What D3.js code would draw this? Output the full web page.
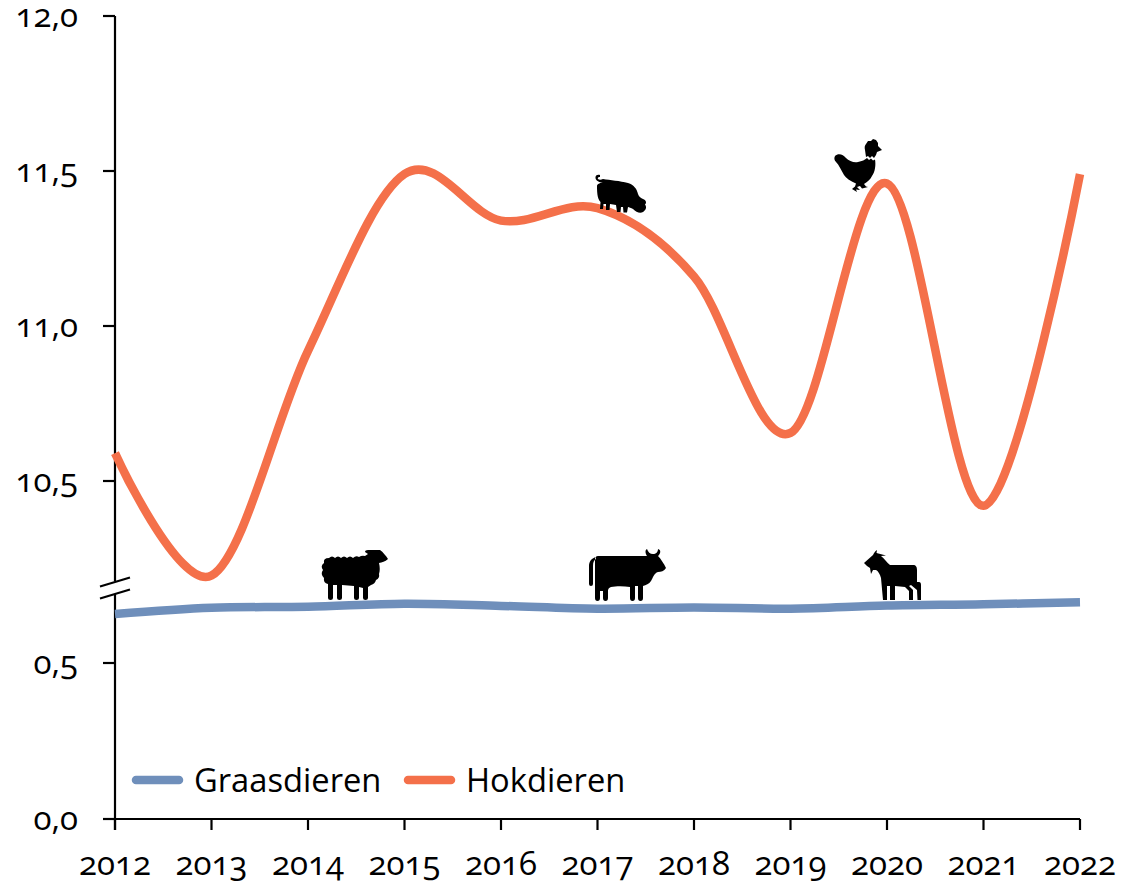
<!DOCTYPE html>
<html><head><meta charset="utf-8">
<script src="https://cdn.jsdelivr.net/npm/d3@7"></script>
<style>html,body{margin:0;background:#fff}svg{display:block}
text{font-family:"Open Sans",sans-serif;fill:#000;font-variant-numeric:oldstyle-nums;font-feature-settings:"onum"}</style>
</head><body><svg id="c" width="1122" height="885"></svg>
<script>
const years=[2012,2013,2014,2015,2016,2017,2018,2019,2020,2021,2022];
const hokdieren=[10.59,10.195,10.92,11.49,11.34,11.38,11.16,10.655,11.46,10.42,11.49];
const graasdieren=[0.657,0.677,0.68,0.69,0.683,0.674,0.678,0.674,0.684,0.688,0.695];
const upperTicks=[10.5,11,11.5,12];
const lowerTicks=[0,0.5];
const names=["Graasdieren","Hokdieren"];
const colors=["#6f8fbb","#f4704a"];
const svg=d3.select("#c");
const x=d3.scaleLinear().domain([2012,2022]).range([115,1080]);
const yU=d3.scaleLinear().domain([10.5,12]).range([481,16]);
const yL=d3.scaleLinear().domain([0,0.5]).range([819,663]);
const fmt=v=>d3.format(".1f")(v).replace(".",",");
const line=(y)=>d3.line().x((d,i)=>x(years[i])).y(d=>y(d)).curve(d3.curveCardinal.tension(0));
const ax=svg.append("g").attr("stroke","#000").attr("stroke-width",2.2);
ax.append("line").attr("x1",115).attr("x2",115).attr("y1",16).attr("y2",581);
ax.append("line").attr("x1",115).attr("x2",115).attr("y1",594).attr("y2",830);
ax.append("line").attr("x1",103).attr("x2",1080).attr("y1",yL(0)).attr("y2",yL(0));
ax.selectAll(".b").data([0,12]).join("line").attr("x1",100).attr("x2",130).attr("y1",d=>587+d-.5).attr("y2",d=>578+d-.5);
ax.selectAll(".xt").data(years).join("line").attr("x1",d=>x(d)).attr("x2",d=>x(d)).attr("y1",819).attr("y2",830);
ax.selectAll(".u").data(upperTicks).join("line").attr("x1",103).attr("x2",115).attr("y1",d=>yU(d)).attr("y2",d=>yU(d));
ax.selectAll(".l").data(lowerTicks).join("line").attr("x1",103).attr("x2",115).attr("y1",d=>yL(d)).attr("y2",d=>yL(d));
const lab=svg.append("g").attr("font-size",33);
lab.selectAll(".u").data(upperTicks).join("text").attr("x",78).attr("text-anchor","end").attr("y",d=>yU(d)+11).text(fmt);
lab.selectAll(".l").data(lowerTicks).join("text").attr("x",78).attr("text-anchor","end").attr("y",d=>yL(d)+11).text(fmt);
lab.selectAll(".x").data(years).join("text").attr("x",d=>x(d)).attr("text-anchor","middle").attr("y",875).text(d=>d);
svg.append("path").attr("d",line(yL)(graasdieren)).attr("fill","none").attr("stroke",colors[0]).attr("stroke-width",8.5);
svg.append("path").attr("d",line(yU)(hokdieren)).attr("fill","none").attr("stroke",colors[1]).attr("stroke-width",8.5);
const leg=[{lx:136,len:43,tx:194},{lx:408,len:43,tx:466}];
leg.forEach((l,i)=>{
 svg.append("line").attr("x1",l.lx).attr("x2",l.lx+l.len).attr("y1",780).attr("y2",780).attr("stroke",colors[i]).attr("stroke-width",8.5).attr("stroke-linecap","round");
 svg.append("text").attr("x",l.tx).attr("y",792).attr("font-size",32.7).text(names[i]);
});
const icons={
 sheep:"M329 558Q332 555 335 558Q338 555 341 558Q344 555 347 558Q350 555 353 558Q356 555 359 557Q362 555 365 556L368 554L365 552Q365 550 368 550L380 550C383 552 386 556 388 559C385 562 382 562 379 563C380 567 380 571 379 574Q380 578 376 580Q375 584 371 585L368 587V598Q368 600 365.500 600Q363 600 363 598V588L359 587V598Q359 600 356.500 600Q354 600 354 598V586L342 585V598Q342 600 339.500 600Q337 600 337 598V585L333 585V598Q333 600 330.500 600Q328 600 328 598V584Q323 583 324 578Q320 574 323 570Q320 566 324 563Q323 558 329 558Z",
 cow:"M598 556H647C645 553 645 550 647 549C648 552 650 554 653 554C656 554 658 552 658 549C661 550 661 553 658 556C661 559 664 564 666 568C664 571 661 572 658 572C654 573 653 578 651 581C649 584 646 585 643 586V598Q643 601 640.500 601Q638 601 638 598V586H635V598Q635 601 632.500 601Q630 601 630 598V587C624 586 616 586 611 587C608 588 608 590 608 592V598Q608 601 605.500 601Q603 601 603 598V591H600V598Q600 601 597.500 601Q595 601 595 598V560Q595 556 598 556ZM596 557C592 558 589 561 589 566V584Q589 586 591 586Q593 586 593 584V566C593 562 594 560 596 559Z",
 pig:"M603 182C600 183 596 181 595.500 178C595 175 598 174 600 175L600 177C598 176.500 597.500 178 598 179C599 180 601 180 603 179C610 180 620 181 628 183C634 185 637 189 638 194C639 197 641 198 643 199C646 200 647 203 645 204.500C647 207 646 210 643 212C640 214 636 212 633 209C631 208 629 207 628 207L627 212.500H623.500L623 207H621L620.500 212H617L616 205L610 204L609.500 210H606L606 204H603.500L603 209H600L600.500 202C597 199 597 190 597 186C597 184 600 183 603 182Z",
 hen:"M835 156C838 153 843 154 846 158C849 161 854 163 858 162C862 161 865 160 867 158L869 160L871 158.500L873 160.500L875 159.500C876 165 875 172 872 176C870 180 867 182 864 184L866 186.500L868 187L862 188.500L860 186L857 187L860 190L856 189.500L857 192L852 189L855 186.500L856 183.500C850 181 846 178 844 175C841 170 839 165 836 162C834 160 834 158 835 156ZM866 157L865 150Q864 146 866 144L868 141L871 141L873 139L876 140L878 143L878 146L882 150L877 152L876 155L874 158L872 156L870 158L868 156Z",
 goat:"M864 563L873 555C874 553 875 551 877 550L876.500 553L886 555.500L881 556C884 558 887 563 890 565H913C916 565 917 567 917 570V582H919Q921 582 921 585V600H917.500L917 590L911 585L909 586L913 590V600H909V591L905 587L895 586V600H890V586H887V600H883L881 578C880 574 878 571 876 570H873L871 574L870 568C868 567 866 565 864 563Z"
};
const g=svg.append("g").attr("fill","#000");
Object.values(icons).forEach(d=>g.append("path").attr("d",d));
</script></body></html>
